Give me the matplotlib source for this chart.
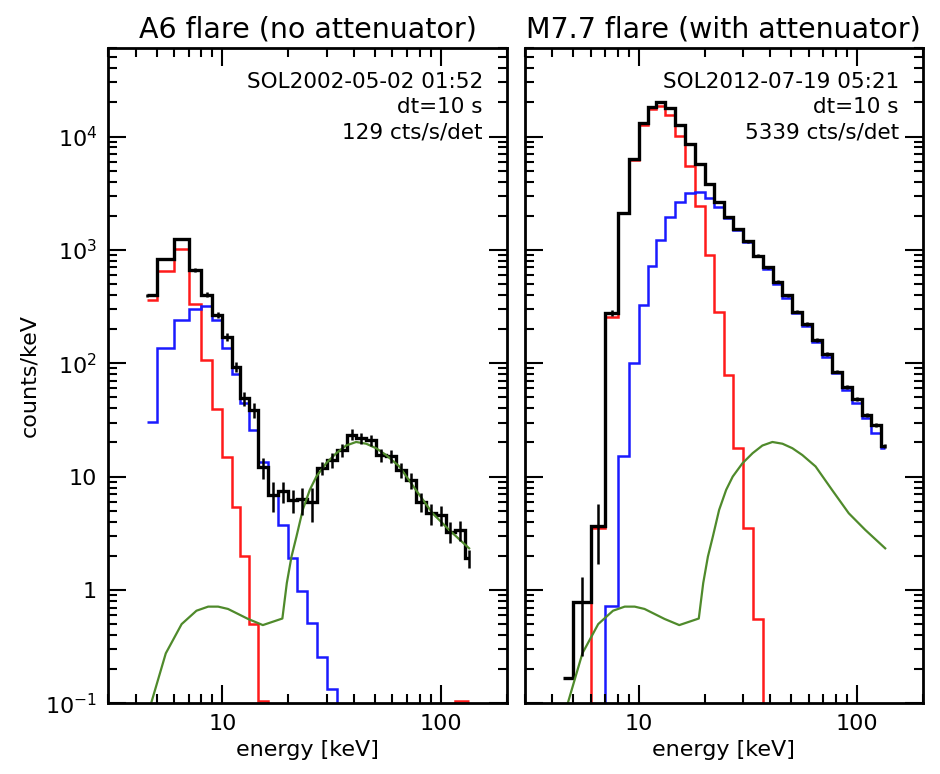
import matplotlib
matplotlib.use("Agg")
import matplotlib.pyplot as plt
from matplotlib.ticker import FixedLocator, FuncFormatter, NullFormatter

# energy bin edges [keV] and the energies the points are plotted at
edges = [4.5, 5, 6, 7, 8, 9, 10, 11, 12, 13.2, 14.6, 16.2, 18, 20, 22, 24.5, 27, 30,
         33.5, 37, 41, 45.5, 50.5, 56, 62, 69, 77, 85.5, 95, 105, 116, 128.5, 135]
energy = [4.5, 5.5, 6.5, 7.5, 8.5, 9.5, 10.5, 11.5, 12.6, 13.9, 15.4, 17.1, 19, 21,
          23.2, 25.7, 28.5, 31.7, 35.2, 39, 43.2, 48, 53.2, 59, 65.5, 73, 81, 90,
          100, 110.5, 122, 135]

# A6 flare (no attenuator)
a6_counts = [396, 830, 1253, 667, 402, 267, 170, 93.5, 49, 39, 12.1, 6.9, 7.4, 6.2,
             6.3, 6.0, 11.9, 14, 17, 23.5, 21.8, 21.1, 15.5, 15.3, 11.5, 9.35, 6.0,
             4.75, 4.6, 3.27, 3.39, 1.9]
a6_err = [15, 20, 30, 25, 20, 18, 14, 10, 7, 6, 2.6, 2.0, 1.6, 1.4, 1.7, 2.0, 1.5,
          2.0, 2.2, 2.6, 2.5, 2.4, 2.0, 2.0, 1.7, 1.5, 1.1, 1.0, 0.9, 0.7, 0.7, 0.35]
a6_thermal = [363, 653, 1023, 334, 107, 39.5, 14.8, 5.43, 2.0, 0.497, 0.105, 1e-3,
              1e-3, 1e-3, 1e-3, 1e-3, 1e-3, 1e-3, 1e-3, 1e-3, 1e-3, 1e-3, 1e-3, 1e-3,
              1e-3, 1e-3, 1e-3, 1e-3, 1e-3, 1e-3, 0.104, 0.104]
a6_nonthermal = [30.6, 136, 241, 300, 318, 241, 136, 81, 45, 26, 13.5, 6.9, 3.75, 1.93,
                 0.98, 0.51, 0.258, 0.134, 1e-3, 1e-3, 1e-3, 1e-3, 1e-3, 1e-3, 1e-3,
                 1e-3, 1e-3, 1e-3, 1e-3, 1e-3, 1e-3, 1e-3]

# M7.7 flare (with attenuator)
m77_counts = [0.166, 0.78, 3.7, 277, 2113, 6325, 13150, 18200, 20000, 17850, 12700,
              8590, 5750, 3810, 2640, 1933, 1527, 1187, 887, 705, 526, 396, 286, 221,
              161, 121, 84.5, 62.3, 48.5, 35.1, 28.6, 18.7]
m77_err = [0, 0.52, 2.0, 15, 40, 70, 100, 120, 125, 120, 100, 80, 65, 55, 45, 38,
           35, 30, 27, 22, 18, 14, 10, 8, 6, 4.5, 3.3, 2.5, 2.0, 1.3, 1.1, 0.8]
m77_thermal = [1e-3, 1e-3, 3.5, 258, 2120, 6250, 12700, 17600, 18700, 15600, 10160,
               5450, 2415, 893, 286, 79, 18.0, 3.5, 0.555, 1e-3, 1e-3, 1e-3, 1e-3,
               1e-3, 1e-3, 1e-3, 1e-3, 1e-3, 1e-3, 1e-3, 1e-3, 1e-3]
m77_nonthermal = [1e-3, 1e-3, 1e-3, 0.72, 15.2, 100, 328, 728, 1228, 1946, 2640, 3170,
                  3235, 2865, 2385, 1900, 1510, 1170, 880, 681, 502, 376, 277, 214, 153,
                  113, 81.8, 58.2, 45, 32.7, 24.2, 17.8]

# green component, same in both panels
green_e = [4.5, 5.5, 6.5, 7.6, 8.6, 9.55, 10.6, 13.1, 15.3, 18.8, 19.7, 20.7, 21.8,
           23.3, 25.1, 26.9, 29.8, 33.2, 36.8, 40.9, 45.5, 50.5, 56.1, 64.5, 76.9,
           91.6, 109, 134.6]
green_v = [0.074, 0.276, 0.50, 0.656, 0.713, 0.713, 0.68, 0.555, 0.49, 0.56, 1.15, 1.97,
           2.95, 5.08, 7.64, 10, 13.1, 16.1, 18.8, 20.2, 19.5, 17.8, 15.5, 12.3, 7.6,
           4.75, 3.39, 2.33]

yticks = [0.1, 1, 10, 100, 1000, 10000]
ytick_labels = [r"$10^{-1}$", "1", "10", r"$10^2$", r"$10^3$", r"$10^4$"]

fig = plt.figure(figsize=(9.4, 7.74), dpi=100)
ax1 = fig.add_axes([0.1152, 0.0913, 0.4238, 0.8463])
ax2 = fig.add_axes([0.5585, 0.0913, 0.4231, 0.8463])


def draw_panel(ax, counts, err, thermal, nonthermal, title, info, show_ylabels):
    ax.stairs(thermal, edges, baseline=None, color="#ff1a1a", lw=1.8)
    ax.stairs(nonthermal, edges, baseline=None, color="#1a1aff", lw=1.8)
    ax.plot(green_e, green_v, color="#4f8a2b", lw=1.6)
    ax.stairs(counts, edges, baseline=None, color="black", lw=2.4)
    ax.errorbar(energy, counts, yerr=err, fmt="none", ecolor="black", elinewidth=1.8)

    ax.set_xscale("log")
    ax.set_yscale("log")
    ax.set_xlim(3, 200)
    ax.set_ylim(0.1, 6e4)

    ax.xaxis.set_major_locator(FixedLocator([10, 100]))
    ax.xaxis.set_major_formatter(FuncFormatter(lambda v, p: "%g" % v))
    ax.xaxis.set_minor_locator(FixedLocator([3, 4, 5, 6, 7, 8, 9, 20, 30, 40, 50, 60,
                                             70, 80, 90, 200]))
    ax.xaxis.set_minor_formatter(NullFormatter())
    ax.yaxis.set_major_locator(FixedLocator(yticks))
    minor_y = [m * d for d in yticks for m in range(2, 10)]
    ax.yaxis.set_minor_locator(FixedLocator(minor_y))
    ax.yaxis.set_minor_formatter(NullFormatter())
    if show_ylabels:
        ax.set_yticklabels(ytick_labels)
        ax.set_ylabel("counts/keV", fontsize=16, labelpad=4)
    else:
        ax.set_yticklabels([])

    ax.tick_params(which="both", direction="in", top=True, right=True, width=1.5,
                   labelsize=16, pad=8)
    ax.tick_params(which="major", length=13)
    ax.tick_params(which="minor", length=6.5)
    for sp in ax.spines.values():
        sp.set_linewidth(2)

    ax.set_xlabel("energy [keV]", fontsize=16, labelpad=4)
    ax.set_title(title, fontsize=20.5, pad=8)
    ax.text(0.94, 0.949, info[0], transform=ax.transAxes, ha="right", va="center",
            fontsize=15.5)
    ax.text(0.94, 0.910, info[1], transform=ax.transAxes, ha="right", va="center",
            fontsize=15.5)
    ax.text(0.94, 0.871, info[2], transform=ax.transAxes, ha="right", va="center",
            fontsize=15.5)


draw_panel(ax1, a6_counts, a6_err, a6_thermal, a6_nonthermal,
           "A6 flare (no attenuator)",
           ["SOL2002-05-02 01:52", "dt=10 s", "129 cts/s/det"], True)
draw_panel(ax2, m77_counts, m77_err, m77_thermal, m77_nonthermal,
           "M7.7 flare (with attenuator)",
           ["SOL2012-07-19 05:21", "dt=10 s", "5339 cts/s/det"], False)

fig.savefig("out.png", dpi=100)
